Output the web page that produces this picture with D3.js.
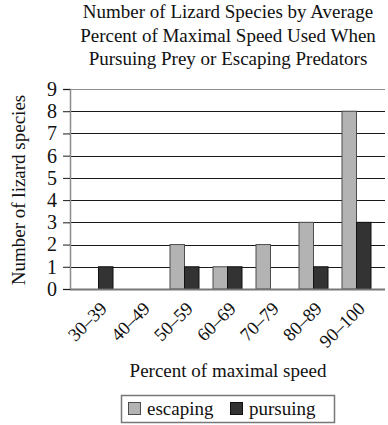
<!DOCTYPE html>
<html>
<head>
<meta charset="utf-8">
<script src="https://cdn.jsdelivr.net/npm/d3@7"></script>
<style>
  body { margin: 0; background: #fff; }
</style>
</head>
<body>
<div id="chart"></div>
<script>
// chart values
var categories = ["30–39", "40–49", "50–59", "60–69", "70–79", "80–89", "90–100"];
var escaping = [0, 0, 2, 1, 2, 3, 8];
var pursuing = [1, 0, 1, 1, 0, 1, 3];
var yTicks = [0, 1, 2, 3, 4, 5, 6, 7, 8, 9];
var titleLines = ["Number of Lizard Species by Average",
  "Percent of Maximal Speed Used When",
  "Pursuing Prey or Escaping Predators"];

var width = 388, height = 425;
var serif = '"Liberation Serif", "Times New Roman", serif';

var svg = d3.select("#chart").append("svg")
  .attr("width", width)
  .attr("height", height);

// plot edges
var plotLeft = 70, plotRight = 385, plotTop = 89, plotBottom = 289;

var x0 = d3.scaleBand().domain(categories).range([77, 378]);
var x1 = d3.scaleBand().domain(["escaping", "pursuing"]).range([x0.bandwidth() / 2 - 14.5, x0.bandwidth() / 2 + 14.5]);
var y = d3.scaleLinear().domain([0, 9]).range([plotBottom, plotTop]);

// title
svg.append("g").selectAll("text")
  .data(titleLines)
  .enter().append("text")
  .attr("x", 228)
  .attr("y", (d, i) => 18 + i * 23.5)
  .attr("text-anchor", "middle")
  .style("font-family", serif)
  .style("font-size", "19px")
  .attr("fill", "#111")
  .text(d => d);

// gridlines
svg.append("g").selectAll("line")
  .data(yTicks.slice(1))
  .enter().append("line")
  .attr("x1", plotLeft).attr("x2", plotRight)
  .attr("y1", d => Math.round(y(d)) + 0.5)
  .attr("y2", d => Math.round(y(d)) + 0.5)
  .attr("stroke", d => d === 9 ? "#8c8c8c" : "#1a1a1a")
  .attr("stroke-width", 1);

// y axis
var yAxis = svg.append("g")
  .attr("transform", `translate(${plotLeft},0)`)
  .call(d3.axisLeft(y).tickValues(yTicks).tickSize(7).tickPadding(6));
yAxis.select(".domain").attr("stroke", "#8c8c8c").attr("stroke-width", 1.5);
yAxis.selectAll(".tick line").attr("stroke", "#1a1a1a");
yAxis.selectAll(".tick text")
  .style("font-family", serif)
  .style("font-size", "20px")
  .attr("fill", "#111");

// bars
var groups = svg.append("g").selectAll("g")
  .data(categories)
  .enter().append("g")
  .attr("transform", d => `translate(${x0(d)},0)`);

groups.append("rect")
  .attr("x", x1("escaping"))
  .attr("width", x1.bandwidth())
  .attr("y", (d, i) => y(escaping[i]))
  .attr("height", (d, i) => y(0) - y(escaping[i]))
  .attr("fill", "#b3b3b3")
  .attr("stroke", "#4d4d4d")
  .attr("stroke-width", 1)
  .style("display", (d, i) => escaping[i] ? null : "none");

groups.append("rect")
  .attr("x", x1("pursuing"))
  .attr("width", x1.bandwidth())
  .attr("y", (d, i) => y(pursuing[i]))
  .attr("height", (d, i) => y(0) - y(pursuing[i]))
  .attr("fill", "#333333")
  .attr("stroke", "#111")
  .attr("stroke-width", 1)
  .style("display", (d, i) => pursuing[i] ? null : "none");

// x baseline
svg.append("line")
  .attr("x1", plotLeft).attr("x2", plotRight)
  .attr("y1", plotBottom + 0.5).attr("y2", plotBottom + 0.5)
  .attr("stroke", "#777").attr("stroke-width", 2);

// x tick labels, rotated
svg.append("g").selectAll("text")
  .data(categories)
  .enter().append("text")
  .attr("transform", d => `translate(${x0(d) + x0.bandwidth() / 2 + 5},${plotBottom + 16}) rotate(-45)`)
  .attr("text-anchor", "end")
  .attr("dy", "0.35em")
  .style("font-family", serif)
  .style("font-size", "18.5px")
  .attr("fill", "#111")
  .text(d => d);

// axis titles
svg.append("text")
  .attr("x", 228).attr("y", 377)
  .attr("text-anchor", "middle")
  .style("font-family", serif)
  .style("font-size", "19px")
  .attr("fill", "#111")
  .text("Percent of maximal speed");

svg.append("text")
  .attr("transform", "translate(25,190) rotate(-90)")
  .attr("text-anchor", "middle")
  .style("font-family", serif)
  .style("font-size", "19px")
  .attr("fill", "#111")
  .text("Number of lizard species");

// legend
var legend = svg.append("g");
legend.append("rect")
  .attr("x", 121.5).attr("y", 395.5)
  .attr("width", 213).attr("height", 27)
  .attr("fill", "#fff").attr("stroke", "#777").attr("stroke-width", 1.5);

var legendItems = [
  { name: "escaping", fill: "#b3b3b3", stroke: "#4d4d4d", x: 128 },
  { name: "pursuing", fill: "#333333", stroke: "#111", x: 230 }
];
legend.selectAll("g.item")
  .data(legendItems)
  .enter().append("g")
  .attr("class", "item")
  .each(function(d) {
    var g = d3.select(this);
    g.append("rect")
      .attr("x", d.x + 0.5).attr("y", 402.5)
      .attr("width", 12).attr("height", 12)
      .attr("fill", d.fill).attr("stroke", d.stroke);
    g.append("text")
      .attr("x", d.x + 19).attr("y", 415)
      .style("font-family", serif)
      .style("font-size", "19px")
      .attr("fill", "#111")
      .text(d.name);
  });
</script>
</body>
</html>
